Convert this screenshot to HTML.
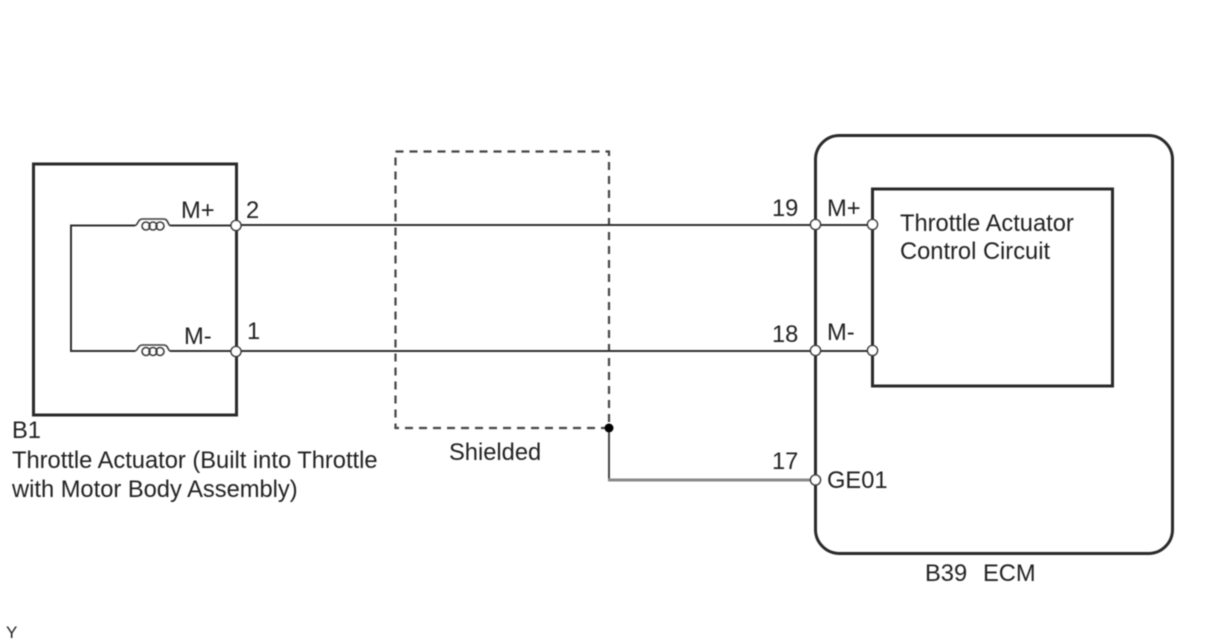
<!DOCTYPE html>
<html>
<head>
<meta charset="utf-8">
<style>
html,body{margin:0;padding:0;background:#fff;width:1208px;height:644px;overflow:hidden}
svg{display:block}
text{font-family:"Liberation Sans",sans-serif;font-size:23.700px;fill:#222}
</style>
</head>
<body>
<svg width="1208" height="644" viewBox="0 0 1208 644" xmlns="http://www.w3.org/2000/svg">
<filter id="b" x="-5%" y="-5%" width="110%" height="110%"><feGaussianBlur stdDeviation="0.4"/></filter>
<g filter="url(#b)">
<!-- left box -->
<rect x="33.500" y="164" width="203" height="251" fill="none" stroke="#2c2c2c" stroke-width="3"/>
<!-- inner wires -->
<path d="M135 225.500H71V351H135M170 225.500H236M170 351H236" fill="none" stroke="#333" stroke-width="2"/>
<!-- coils -->
<g fill="none" stroke="#3c3c3c" stroke-width="1.600">
<path d="M135 225.500C138 225 138 219 142 219H164C168 219 168 225 170 225.500"/>
<path d="M135 351C138 350.500 138 345 142 345H164C168 345 168 350.500 170 351"/>
<circle cx="146" cy="226" r="4"/><circle cx="153" cy="226" r="4"/><circle cx="160" cy="226" r="4"/>
<circle cx="146" cy="351.500" r="4"/><circle cx="153" cy="351.500" r="4"/><circle cx="160" cy="351.500" r="4"/>
</g>
<!-- shield -->
<path d="M609 428H395.500V151.500H609V428" fill="none" stroke="#444" stroke-width="2.200" stroke-dasharray="8 6"/>
<!-- main wires -->
<path d="M236 225H815M236 351H815" fill="none" stroke="#333" stroke-width="2"/>
<path d="M815 225H872M815 351H872" fill="none" stroke="#333" stroke-width="2"/>
<path d="M609 428V480" fill="none" stroke="#444" stroke-width="2"/>
<path d="M608 480H815" fill="none" stroke="#888" stroke-width="3"/>
<!-- ECM -->
<rect x="815.500" y="135.500" width="357" height="418" rx="24" ry="24" fill="none" stroke="#2c2c2c" stroke-width="3"/>
<rect x="872.500" y="189" width="240" height="197" fill="none" stroke="#2c2c2c" stroke-width="3"/>
<!-- terminals -->
<g fill="#fff" stroke="#3a3a3a" stroke-width="1.600">
<circle cx="236" cy="225.500" r="5"/><circle cx="236" cy="351.500" r="5"/>
<circle cx="815.500" cy="224.500" r="5"/><circle cx="815.500" cy="350.500" r="5"/>
<circle cx="872.500" cy="224.500" r="5"/><circle cx="872.500" cy="350.500" r="5"/>
<circle cx="815.500" cy="480" r="5"/>
</g>
<circle cx="609" cy="428" r="4.500" fill="#000"/>
<!-- text -->
<text x="181" y="218">M+</text>
<text x="184" y="344">M-</text>
<text x="246" y="218">2</text>
<text x="247" y="339">1</text>
<text x="772" y="216">19</text>
<text x="772" y="342">18</text>
<text x="772" y="469">17</text>
<text x="827" y="216">M+</text>
<text x="827" y="340">M-</text>
<text x="827" y="488">GE01</text>
<text x="900" y="231">Throttle Actuator</text>
<text x="900" y="259">Control Circuit</text>
<text x="449" y="460">Shielded</text>
<text x="12" y="438">B1</text>
<text x="12" y="468">Throttle Actuator (Built into Throttle</text>
<text x="12" y="497">with Motor Body Assembly)</text>
<text x="925" y="581">B39</text>
<text x="983" y="581">ECM</text>
<text x="6" y="638" style="font-size:17px">Y</text>
</g>
</svg>
</body>
</html>
